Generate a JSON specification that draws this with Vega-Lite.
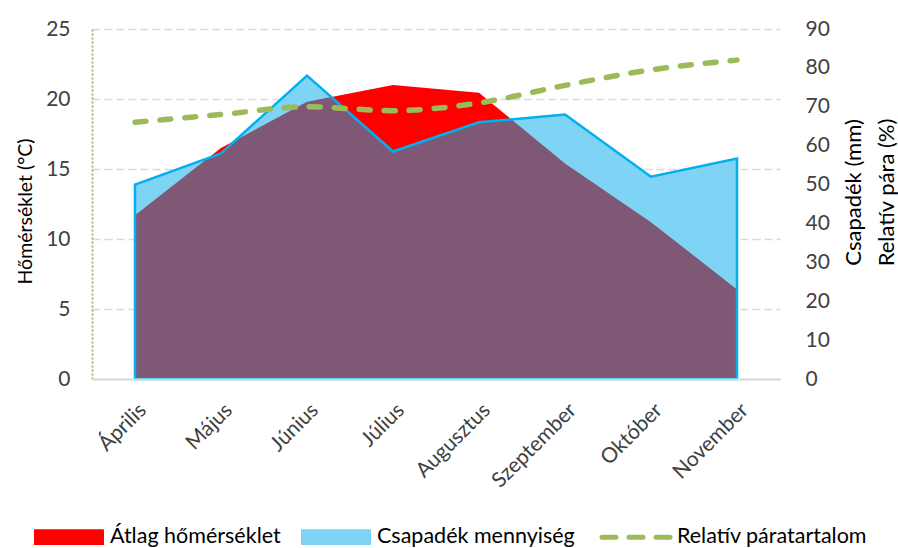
{
  "$schema": "https://vega.github.io/schema/vega-lite/v6.json",
  "width": 688,
  "height": 350,
  "autosize": "none",
  "padding": {"left": 92, "top": 29, "right": 118, "bottom": 169},
  "background": "white",
  "config": {
    "view": {"stroke": null},
    "font": "Lato",
    "axis": {"labelFont": "Lato", "titleFont": "Lato", "labelColor": "#404040", "titleColor": "#000000", "titleFontWeight": "normal", "labelFontSize": 21, "titleFontSize": 20}
  },
  "datasets": {
    "main": [
      {"i": 0, "month": "Április", "temp": 11.7, "precip": 50, "humidity": 66},
      {"i": 1, "month": "Május", "temp": 16.5, "precip": 58, "humidity": 68},
      {"i": 2, "month": "Június", "temp": 19.8, "precip": 78, "humidity": 70},
      {"i": 3, "month": "Július", "temp": 21.0, "precip": 58.5, "humidity": 69},
      {"i": 4, "month": "Augusztus", "temp": 20.45, "precip": 66, "humidity": 71},
      {"i": 5, "month": "Szeptember", "temp": 15.4, "precip": 68, "humidity": 75.5},
      {"i": 6, "month": "Október", "temp": 11.2, "precip": 52, "humidity": 79.5},
      {"i": 7, "month": "November", "temp": 6.4, "precip": 56.7, "humidity": 82}
    ],
    "overlap": [
      {"i": 0, "value": 11.7},
      {"i": 0.846, "value": 15.76},
      {"i": 1, "value": 16.11},
      {"i": 1.176, "value": 17.08},
      {"i": 2, "value": 19.8},
      {"i": 2.282, "value": 20.14},
      {"i": 3, "value": 16.25},
      {"i": 4, "value": 18.33},
      {"i": 4.378, "value": 18.54},
      {"i": 5, "value": 15.4},
      {"i": 6, "value": 11.2},
      {"i": 7, "value": 6.4}
    ]
  },
  "encoding": {
    "x": {
      "field": "i",
      "type": "quantitative",
      "scale": {"domain": [-0.5, 7.5], "nice": false, "zero": false},
      "axis": {
        "values": [0, 1, 2, 3, 4, 5, 6, 7],
        "labelExpr": "['Április','Május','Június','Július','Augusztus','Szeptember','Október','November'][datum.value]",
        "labelAngle": -45,
        "labelAlign": "right",
        "labelBaseline": "top",
        "labelPadding": 20,
        "labelFontSize": 21,
        "labelOverlap": false,
        "labelBound": false,
        "ticks": false,
        "grid": false,
        "domainColor": "#D9D9D9",
        "domainWidth": 2,
        "title": null,
        "zindex": 1
      }
    }
  },
  "resolve": {"scale": {"y": "independent"}},
  "layer": [
    {
      "data": {"name": "main"},
      "mark": {"type": "area", "opacity": 1},
      "encoding": {
        "y": {
          "field": "temp",
          "type": "quantitative",
          "scale": {"domain": [0, 25], "nice": false},
          "axis": {
            "orient": "left",
            "title": "Hőmérséklet (°C)",
            "titleFontSize": 19.5,
            "titleAngle": -90,
            "titleX": -67,
            "titleY": 182,
            "titleAlign": "center",
            "titleBaseline": "middle",
            "values": [0, 5, 10, 15, 20, 25],
            "grid": true,
            "gridDash": [8, 4],
            "gridColor": "#D9D9D9",
            "gridWidth": 1.5,
            "domainColor": "#9BBB59",
            "domainDash": [2, 2],
            "domainWidth": 2,
            "ticks": false,
            "labelPadding": 22
          }
        },
        "color": {
          "datum": "Átlag hőmérséklet",
          "type": "nominal",
          "scale": {"domain": ["Átlag hőmérséklet", "Csapadék mennyiség", "Relatív páratartalom"], "range": ["#FF0000", "#7FD3F5", "#9BBB59"]},
          "legend": {
            "title": null,
            "orient": "none",
            "legendX": -57,
            "legendY": 500,
            "direction": "horizontal",
            "symbolType": "M-1,-0.2H1V0.2H-1Z",
            "symbolSize": 4624,
            "labelFontSize": 21.5,
            "labelFont": "Lato",
            "labelColor": "#000000",
            "labelOffset": 7,
            "labelLimit": 400,
            "columnPadding": 17,
            "encode": {
              "symbols": {
                "update": {
                  "x": {"value": 34},
                  "y": {"value": 8},
                  "size": {"value": 4624},
                  "shape": {"signal": "datum.value === 'Relatív páratartalom' ? 'M-1,0H1' : 'M-1,-0.2H1V0.2H-1Z'"},
                  "fill": {"signal": "datum.value === 'Átlag hőmérséklet' ? '#FF0000' : (datum.value === 'Csapadék mennyiség' ? '#7FD3F5' : 'transparent')"},
                  "stroke": {"signal": "datum.value === 'Átlag hőmérséklet' ? '#FF0000' : (datum.value === 'Csapadék mennyiség' ? '#00B0F0' : '#9BBB59')"},
                  "strokeWidth": {"signal": "datum.value === 'Relatív páratartalom' ? 5 : 2"},
                  "strokeDash": {"signal": "datum.value === 'Relatív páratartalom' ? [14, 13] : [1, 0]"},
                  "strokeCap": {"value": "round"},
                  "opacity": {"value": 1},
                  "fillOpacity": {"value": 1},
                  "strokeOpacity": {"value": 1}
                }
              },
              "labels": {
                "update": {
                  "x": {"value": 75},
                  "y": {"value": 8},
                  "baseline": {"value": "middle"},
                  "align": {"value": "left"}
                }
              }
            }
          }
        }
      }
    },
    {
      "data": {"name": "main"},
      "mark": {"type": "area", "opacity": 1},
      "encoding": {
        "y": {
          "field": "precip",
          "type": "quantitative",
          "scale": {"domain": [0, 90], "nice": false},
          "axis": {
            "orient": "right",
            "title": ["Csapadék (mm)", "Relatív pára (%)"],
            "titleFontSize": 22,
            "titleAngle": -90,
            "titleX": 73,
            "titleY": 163,
            "titleAlign": "center",
            "titleBaseline": "middle",
            "titleLineHeight": 33,
            "values": [0, 10, 20, 30, 40, 50, 60, 70, 80, 90],
            "grid": false,
            "domain": false,
            "ticks": false,
            "labelPadding": 25,
            "labelAlign": "left"
          }
        },
        "color": {
          "datum": "Csapadék mennyiség",
          "type": "nominal",
          "legend": {
            "title": null,
            "orient": "none",
            "legendX": -57,
            "legendY": 500,
            "direction": "horizontal",
            "symbolType": "M-1,-0.2H1V0.2H-1Z",
            "symbolSize": 4624,
            "labelFontSize": 21.5,
            "labelFont": "Lato",
            "labelColor": "#000000",
            "labelOffset": 7,
            "labelLimit": 400,
            "columnPadding": 17,
            "encode": {
              "symbols": {
                "update": {
                  "x": {"value": 34},
                  "y": {"value": 8},
                  "size": {"value": 4624},
                  "shape": {"signal": "datum.value === 'Relatív páratartalom' ? 'M-1,0H1' : 'M-1,-0.2H1V0.2H-1Z'"},
                  "fill": {"signal": "datum.value === 'Átlag hőmérséklet' ? '#FF0000' : (datum.value === 'Csapadék mennyiség' ? '#7FD3F5' : 'transparent')"},
                  "stroke": {"signal": "datum.value === 'Átlag hőmérséklet' ? '#FF0000' : (datum.value === 'Csapadék mennyiség' ? '#00B0F0' : '#9BBB59')"},
                  "strokeWidth": {"signal": "datum.value === 'Relatív páratartalom' ? 5 : 2"},
                  "strokeDash": {"signal": "datum.value === 'Relatív páratartalom' ? [14, 13] : [1, 0]"},
                  "strokeCap": {"value": "round"},
                  "opacity": {"value": 1},
                  "fillOpacity": {"value": 1},
                  "strokeOpacity": {"value": 1}
                }
              },
              "labels": {
                "update": {
                  "x": {"value": 75},
                  "y": {"value": 8},
                  "baseline": {"value": "middle"},
                  "align": {"value": "left"}
                }
              }
            }
          }
        }
      }
    },
    {
      "data": {"name": "overlap"},
      "mark": {"type": "area", "color": "#7E5874", "opacity": 1},
      "encoding": {
        "y": {"field": "value", "type": "quantitative", "scale": {"domain": [0, 25], "nice": false}, "axis": null}
      }
    },
    {
      "data": {"name": "main"},
      "mark": {"type": "area", "fill": "transparent", "stroke": "#00B0F0", "strokeWidth": 2.5, "strokeJoin": "miter"},
      "encoding": {
        "y": {"field": "precip", "type": "quantitative", "scale": {"domain": [0, 90], "nice": false}, "axis": null}
      }
    },
    {
      "data": {"name": "main"},
      "mark": {"type": "line", "strokeWidth": 5.5, "strokeDash": [11, 14], "strokeCap": "round", "interpolate": "monotone"},
      "encoding": {
        "y": {"field": "humidity", "type": "quantitative", "scale": {"domain": [0, 90], "nice": false}, "axis": null},
        "color": {
          "datum": "Relatív páratartalom",
          "type": "nominal",
          "legend": {
            "title": null,
            "orient": "none",
            "legendX": -57,
            "legendY": 500,
            "direction": "horizontal",
            "symbolType": "M-1,-0.2H1V0.2H-1Z",
            "symbolSize": 4624,
            "labelFontSize": 21.5,
            "labelFont": "Lato",
            "labelColor": "#000000",
            "labelOffset": 7,
            "labelLimit": 400,
            "columnPadding": 17,
            "encode": {
              "symbols": {
                "update": {
                  "x": {"value": 34},
                  "y": {"value": 8},
                  "size": {"value": 4624},
                  "shape": {"signal": "datum.value === 'Relatív páratartalom' ? 'M-1,0H1' : 'M-1,-0.2H1V0.2H-1Z'"},
                  "fill": {"signal": "datum.value === 'Átlag hőmérséklet' ? '#FF0000' : (datum.value === 'Csapadék mennyiség' ? '#7FD3F5' : 'transparent')"},
                  "stroke": {"signal": "datum.value === 'Átlag hőmérséklet' ? '#FF0000' : (datum.value === 'Csapadék mennyiség' ? '#00B0F0' : '#9BBB59')"},
                  "strokeWidth": {"signal": "datum.value === 'Relatív páratartalom' ? 5 : 2"},
                  "strokeDash": {"signal": "datum.value === 'Relatív páratartalom' ? [14, 13] : [1, 0]"},
                  "strokeCap": {"value": "round"},
                  "opacity": {"value": 1},
                  "fillOpacity": {"value": 1},
                  "strokeOpacity": {"value": 1}
                }
              },
              "labels": {
                "update": {
                  "x": {"value": 75},
                  "y": {"value": 8},
                  "baseline": {"value": "middle"},
                  "align": {"value": "left"}
                }
              }
            }
          }
        }
      }
    }
  ]
}
